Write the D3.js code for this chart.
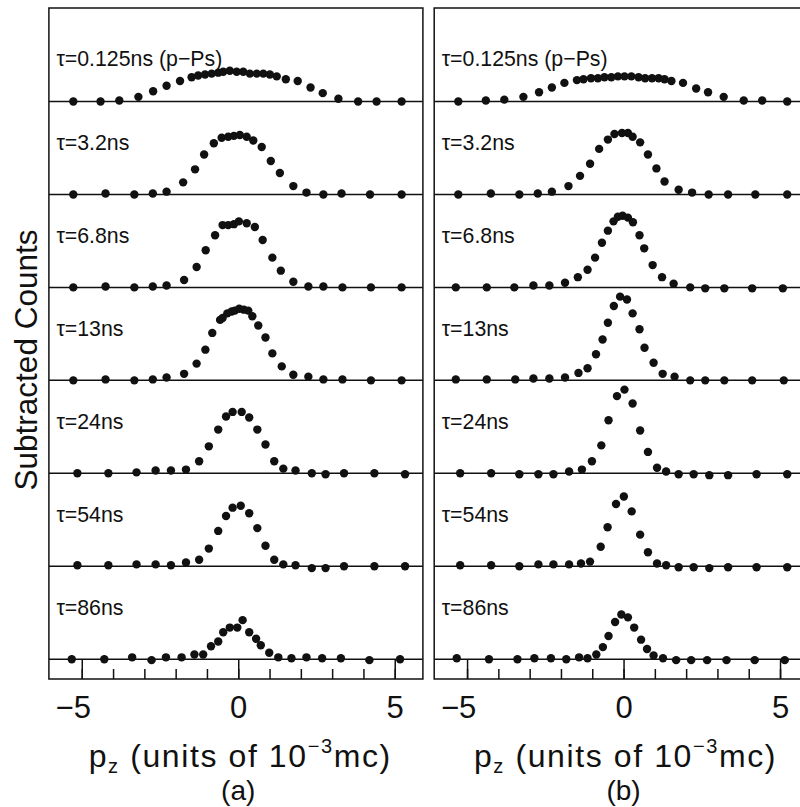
<!DOCTYPE html>
<html>
<head>
<meta charset="utf-8">
<script src="https://cdn.jsdelivr.net/npm/d3@7"></script>
<style>
  body { margin: 0; background: #fff; }
  svg { display: block; }
</style>
</head>
<body>
<svg id="chart" width="800" height="807"></svg>
<script>
// Lifetime windows, one row per window (top to bottom).
var lifetimes = ['0.125ns (p\u2212Ps)', '3.2ns', '6.8ns', '13ns', '24ns', '54ns', '86ns'];
var panelNames = ['(a)', '(b)'];
var tickValues = [-5, -4, -3, -2, -1, 0, 1, 2, 3, 4, 5];
var majorTicks = [-5, 0, 5];

// Panel (a): p_z positions and subtracted counts for each row.
var pzA = [
  [-5.27,-4.40,-3.80,-3.19,-2.72,-2.29,-1.86,-1.49,-1.28,-1.06,-0.85,-0.64,-0.48,-0.27,-0.05,0.16,0.37,0.59,0.80,1.01,1.23,1.52,1.90,2.31,2.70,3.20,3.83,4.42,5.22],
  [-5.27,-4.24,-3.32,-2.73,-2.29,-1.76,-1.38,-1.09,-0.78,-0.53,-0.32,-0.14,0.05,0.27,0.48,0.75,1.04,1.33,1.76,2.18,2.72,3.30,4.21,5.22],
  [-5.27,-4.24,-3.32,-2.73,-2.29,-1.73,-1.33,-1.04,-0.74,-0.50,-0.32,-0.14,0.02,0.27,0.53,0.78,1.09,1.36,1.76,2.24,2.72,3.33,4.24,5.22],
  [-5.27,-4.24,-3.32,-2.73,-2.29,-1.73,-1.33,-1.05,-0.83,-0.58,-0.50,-0.35,-0.21,-0.11,0.03,0.18,0.32,0.45,0.64,0.87,1.09,1.39,1.76,2.24,2.72,3.33,4.24,5.22],
  [-5.14,-4.15,-3.25,-2.64,-2.15,-1.67,-1.25,-0.94,-0.64,-0.39,-0.18,0.11,0.35,0.61,0.87,1.15,1.44,1.83,2.35,2.79,3.38,4.35,5.33],
  [-5.14,-4.15,-3.25,-2.64,-2.15,-1.67,-1.25,-0.94,-0.64,-0.39,-0.18,0.08,0.35,0.61,0.87,1.15,1.44,1.83,2.35,2.79,3.38,4.35,5.33],
  [-5.32,-4.28,-3.39,-2.77,-2.31,-1.81,-1.40,-1.12,-0.87,-0.64,-0.48,-0.27,-0.03,0.14,0.35,0.57,0.72,0.99,1.28,1.70,2.18,2.68,3.28,4.19,5.17]
];
var countsA = [
  [0,0,1,5,11,17,22,26,28,29,30,31,32,33,32,32,30,30,30,29,27,24,22,15,9,3,0,0,0],
  [0,1,0,1,3,13,27,43,55,61,62,63,64,62,58,51,36,23,9,2,0,1,0,0],
  [0,1,0,1,2,8,22,40,56,67,67,68,71,69,65,51,32,18,6,1,1,0,0,0],
  [0,1,0,1,3,7,18,33,51,65,67,72,74,75,77,76,75,69,59,46,29,15,6,4,1,1,0,0],
  [0,0,1,3,3,4,13,29,47,61,66,66,60,47,31,13,5,3,0,-1,0,0,-1],
  [1,1,2,2,1,4,7,19,38,54,63,65,57,41,22,7,2,1,-2,-2,0,0,0],
  [0,0,2,-1,2,2,5,5,14,19,29,34,34,42,29,22,15,7,2,1,2,1,1,-1,0]
];

// Panel (b).
var pzB = [
  [-5.28,-4.40,-3.81,-3.20,-2.70,-2.29,-1.89,-1.49,-1.28,-1.04,-0.82,-0.61,-0.39,-0.18,0.03,0.25,0.48,0.69,0.91,1.12,1.31,1.53,1.90,2.32,2.70,3.20,3.84,4.43,5.23],
  [-5.28,-4.24,-3.33,-2.74,-2.29,-1.76,-1.39,-1.07,-0.78,-0.50,-0.29,-0.05,0.14,0.29,0.53,0.78,1.05,1.31,1.76,2.19,2.72,3.34,4.21,5.23],
  [-5.36,-4.37,-3.49,-2.88,-2.37,-1.87,-1.46,-1.15,-0.91,-0.69,-0.50,-0.32,-0.18,-0.03,0.14,0.30,0.51,0.66,0.93,1.23,1.60,2.13,2.61,3.22,4.11,5.09],
  [-5.36,-4.37,-3.46,-2.88,-2.37,-1.87,-1.44,-1.15,-0.88,-0.67,-0.50,-0.31,-0.11,0.11,0.29,0.51,0.67,0.96,1.25,1.63,2.13,2.61,3.22,4.11,5.12],
  [-5.22,-4.23,-3.33,-2.72,-2.24,-1.74,-1.33,-1.01,-0.71,-0.48,-0.21,0.03,0.29,0.53,0.78,1.07,1.36,1.76,2.24,2.74,3.34,4.25,5.23],
  [-5.22,-4.23,-3.33,-2.72,-2.24,-1.74,-1.36,-1.07,-0.73,-0.51,-0.24,0.01,0.26,0.53,0.78,1.07,1.36,1.76,2.24,2.74,3.34,4.25,5.23],
  [-5.33,-4.30,-3.39,-2.85,-2.32,-1.83,-1.42,-1.15,-0.87,-0.66,-0.48,-0.27,-0.07,0.14,0.34,0.56,0.75,0.96,1.26,1.68,2.16,2.67,3.29,4.19,5.15]
];
var countsB = [
  [0,1,2,5,10,15,20,23,24,25,25,26,26,27,27,27,26,25,25,25,24,22,20,14,10,5,1,1,0],
  [0,1,0,1,3,9,20,33,49,59,65,66,66,62,56,43,28,14,5,2,0,0,0,0],
  [0,0,0,2,2,5,11,19,32,48,61,71,76,77,75,70,56,42,24,11,4,0,-1,-1,-1,-1],
  [1,1,1,2,2,3,8,13,28,44,62,80,90,87,72,55,35,19,7,4,0,0,0,0,0],
  [0,0,-1,-1,-1,2,4,13,30,57,83,90,75,46,23,6,2,-1,-1,-2,-2,-1,-1],
  [1,1,0,2,2,2,3,5,21,42,67,75,59,34,15,3,1,-1,-1,-2,-1,-1,-1],
  [1,0,0,1,1,0,2,1,5,13,25,40,48,45,34,21,11,4,1,-1,-1,-1,-1,-1,-1]
];

var FONT = 'Liberation Sans, Arial, Helvetica, sans-serif';
var svg = d3.select('#chart');
var panelLeft = [48.9, 434.2];
var frameTop = 8, frameBottom = 679, panelW = 374;

var x = d3.scaleLinear().domain([-6.05, 5.9]).range([0, panelW]);
var rowBase = d3.scaleLinear().domain([0, 6]).range([101.5, 659.2]);
var y = d3.scaleLinear().domain([0, 100]).range([0, -93]);

function drawPanel(k, pz, counts) {
  var g = svg.append('g')
      .attr('transform', 'translate(' + panelLeft[k] + ',0)');

  // Baselines for each lifetime window.
  g.selectAll('line.base')
      .data(lifetimes)
    .enter().append('line')
      .attr('class', 'base')
      .attr('x1', 0)
      .attr('x2', panelW)
      .attr('y1', function(d, i) { return rowBase(i); })
      .attr('y2', function(d, i) { return rowBase(i); })
      .style('stroke', '#111')
      .style('stroke-width', 1.5);

  // Minor and major ticks pointing up from the bottom edge.
  g.append('g')
      .attr('transform', 'translate(0,' + frameBottom + ')')
      .call(d3.axisBottom(x).tickValues(tickValues).tickSize(-10).tickFormat(''))
      .call(function(a) { a.select('.domain').remove(); })
      .selectAll('line').style('stroke', '#111').style('stroke-width', 1.5);

  var major = g.append('g')
      .attr('transform', 'translate(0,' + frameBottom + ')')
      .call(d3.axisBottom(x).tickValues(majorTicks).tickSize(-(frameBottom - rowBase(6))).tickPadding(17));
  major.select('.domain').remove();
  major.selectAll('line').style('stroke', '#111').style('stroke-width', 1.5);
  // Digits sit on the tick, the minus sign hangs to the left.
  major.selectAll('text')
      .attr('dx', function(d) { return d < 0 ? '-0.29em' : 0; })
      .style('font-family', FONT)
      .style('font-size', '31px')
      .style('fill', '#111');

  // Rows of points.
  var rows = g.selectAll('g.row')
      .data(lifetimes)
    .enter().append('g')
      .attr('class', 'row')
      .attr('transform', function(d, i) { return 'translate(0,' + rowBase(i) + ')'; });

  rows.append('text')
      .attr('x', 7.5)
      .attr('y', function(d, i) { return i === 0 ? -36 : -44; })
      .style('font-family', FONT)
      .style('font-size', '21.3px')
      .style('fill', '#111')
      .text(function(d) { return '\u03c4=' + d; });

  rows.selectAll('circle')
      .data(function(d, i) {
        return pz[i].map(function(p, j) { return {pz: p, c: counts[i][j]}; });
      })
    .enter().append('circle')
      .attr('cx', function(d) { return x(d.pz); })
      .attr('cy', function(d) { return y(d.c); })
      .attr('r', 4.2)
      .style('fill', '#111');

  // Frame.
  g.append('rect')
      .attr('x', 0)
      .attr('y', frameTop)
      .attr('width', panelW)
      .attr('height', frameBottom - frameTop)
      .style('fill', 'none')
      .style('stroke', '#111')
      .style('stroke-width', 1.5);

  // Axis title with subscript and superscript.
  var title = g.append('text')
      .attr('x', x(0) + 2)
      .attr('y', 767)
      .attr('text-anchor', 'middle')
      .style('font-family', FONT)
      .style('font-size', '32px')
      .style('letter-spacing', '1.6px')
      .style('fill', '#111');
  title.append('tspan').text('p');
  title.append('tspan').attr('dy', 6).style('font-size', '20px').text('z');
  title.append('tspan').attr('dy', -6).text(' (units of 10');
  title.append('tspan').attr('dy', -14).style('font-size', '20px').text('\u22123');
  title.append('tspan').attr('dy', 14).text('mc)');

  g.append('text')
      .attr('x', x(0))
      .attr('y', 800)
      .attr('text-anchor', 'middle')
      .style('font-family', FONT)
      .style('font-size', '28px')
      .style('fill', '#111')
      .text(panelNames[k]);
}

drawPanel(0, pzA, countsA);
drawPanel(1, pzB, countsB);

svg.append('text')
    .attr('transform', 'translate(37,360) rotate(-90)')
    .attr('text-anchor', 'middle')
    .style('font-family', FONT)
    .style('font-size', '31.5px')
    .style('fill', '#111')
    .text('Subtracted Counts');
</script>
</body>
</html>
